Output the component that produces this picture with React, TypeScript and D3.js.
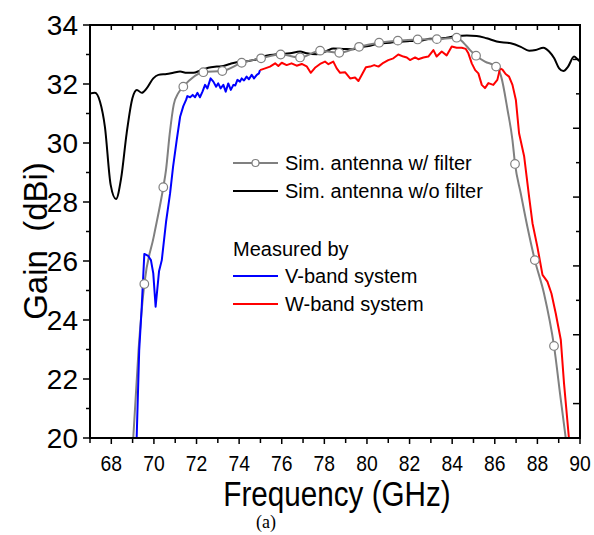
import React from "react";
import * as d3 from "d3";

// ---------- data ----------
const simNoFilterF = [67.0, 67.23, 67.47, 67.7, 67.97, 68.22, 68.46, 68.72, 68.99, 69.2, 69.43, 69.66, 69.97, 70.21, 70.6, 70.91, 71.23, 71.54, 71.85, 72.16, 72.55, 72.95, 73.26, 73.57, 73.89, 74.2, 74.51, 74.83, 75.14, 75.45, 75.77, 76.08, 76.39, 76.86, 77.17, 77.64, 78.11, 78.42, 78.89, 79.36, 79.83, 80.15, 80.62, 81.08, 81.55, 82.02, 82.49, 82.96, 83.27, 83.74, 84.21, 84.69, 85.15, 85.62, 86.09, 86.75, 87.22, 87.61, 87.92, 88.28, 88.55, 88.79, 89.02, 89.22, 89.44, 89.72, 89.88, 90.0];
const simNoFilterG = [31.68, 31.7, 31.4, 30.55, 28.58, 28.1, 28.8, 30.33, 31.52, 31.8, 31.7, 31.85, 32.19, 32.31, 32.34, 32.38, 32.42, 32.38, 32.38, 32.45, 32.55, 32.59, 32.61, 32.68, 32.74, 32.76, 32.79, 32.84, 32.93, 32.98, 33.01, 33.02, 33.04, 33.1, 33.04, 33.01, 33.12, 33.2, 33.19, 33.18, 33.26, 33.3, 33.38, 33.4, 33.43, 33.46, 33.46, 33.53, 33.53, 33.57, 33.63, 33.64, 33.63, 33.55, 33.44, 33.38, 33.26, 33.13, 33.15, 33.23, 33.1, 32.87, 32.53, 32.44, 32.59, 32.93, 32.84, 32.76];

const simFilterF = [69.03, 69.28, 69.55, 70.0, 70.44, 70.57, 70.74, 70.93, 71.15, 71.38, 72.32, 73.21, 74.12, 75.03, 75.95, 76.86, 77.8, 78.7, 79.63, 80.57, 81.45, 82.38, 83.28, 84.21, 84.53, 84.84, 85.12, 85.54, 86.06, 86.3, 86.6, 86.83, 86.95, 87.22, 87.53, 87.88, 88.31, 88.78, 89.1, 89.33];
const simFilterG = [20.0, 23.0, 25.22, 26.85, 28.5, 29.1, 30.3, 31.3, 31.7, 31.91, 32.4, 32.44, 32.72, 32.87, 33.0, 32.9, 33.13, 33.06, 33.26, 33.4, 33.47, 33.51, 33.52, 33.57, 33.4, 33.15, 32.96, 32.76, 32.59, 32.25, 31.12, 30.1, 29.29, 28.29, 27.16, 26.03, 24.9, 23.12, 21.29, 20.0];
const simFilterMarkF = [69.55, 70.44, 71.38, 72.32, 73.21, 74.12, 75.03, 75.95, 76.86, 77.8, 78.7, 79.63, 80.57, 81.45, 82.38, 83.28, 84.21, 85.12, 86.06, 86.95, 87.88, 88.78];
const simFilterMarkG = [25.22, 28.5, 31.91, 32.4, 32.44, 32.72, 32.87, 33.0, 32.9, 33.13, 33.06, 33.26, 33.4, 33.47, 33.51, 33.52, 33.57, 32.96, 32.59, 29.29, 26.03, 23.12];

const vBandF = [69.19, 69.31, 69.42, 69.55, 69.73, 69.86, 69.97, 70.08, 70.24, 70.37, 70.57, 70.76, 70.9, 71.07, 71.23, 71.38, 71.51, 71.57, 71.7, 71.82, 71.93, 72.04, 72.16, 72.28, 72.4, 72.51, 72.66, 72.79, 72.92, 73.02, 73.13, 73.26, 73.37, 73.49, 73.61, 73.73, 73.82, 73.92, 74.04, 74.12, 74.23, 74.35, 74.46, 74.59, 74.7, 74.83, 74.93, 74.98];
const vBandG = [20.0, 22.98, 24.34, 26.24, 26.17, 26.03, 25.58, 24.45, 25.65, 26.03, 27.33, 28.3, 29.2, 30.1, 30.89, 31.25, 31.46, 31.59, 31.55, 31.63, 31.55, 31.7, 31.55, 31.74, 31.97, 31.85, 32.19, 32.08, 31.91, 32.02, 31.85, 31.97, 31.74, 32.02, 31.8, 31.97, 31.95, 32.14, 32.08, 32.19, 32.12, 32.25, 32.16, 32.31, 32.19, 32.31, 32.36, 32.47];

const wBandF = [74.98, 75.22, 75.45, 75.69, 75.84, 76.0, 76.23, 76.46, 76.7, 76.94, 77.17, 77.36, 77.56, 77.8, 78.03, 78.19, 78.42, 78.58, 78.74, 78.97, 79.21, 79.44, 79.6, 79.76, 79.95, 80.15, 80.34, 80.54, 80.77, 81.0, 81.24, 81.47, 81.71, 81.87, 82.02, 82.26, 82.41, 82.65, 82.88, 83.12, 83.27, 83.51, 83.74, 83.98, 84.21, 84.45, 84.64, 84.76, 84.92, 85.08, 85.23, 85.39, 85.54, 85.7, 85.93, 86.12, 86.25, 86.36, 86.51, 86.67, 86.83, 86.99, 87.14, 87.38, 87.61, 87.77, 88.0, 88.24, 88.47, 88.66, 88.86, 89.1, 89.25, 89.48];
const wBandG = [32.47, 32.53, 32.59, 32.7, 32.61, 32.72, 32.64, 32.7, 32.62, 32.68, 32.6, 32.38, 32.55, 32.68, 32.76, 32.67, 32.76, 32.53, 32.38, 32.4, 32.19, 32.22, 32.1, 32.31, 32.57, 32.59, 32.64, 32.59, 32.72, 32.81, 32.87, 33.0, 32.93, 32.9, 32.81, 32.9, 32.84, 32.9, 32.93, 33.15, 32.93, 33.1, 32.97, 33.27, 33.23, 33.23, 33.19, 33.04, 32.7, 32.47, 32.36, 31.97, 31.86, 32.03, 31.97, 32.14, 32.53, 32.49, 32.34, 32.25, 31.97, 31.46, 30.33, 29.54, 28.18, 27.28, 26.48, 25.53, 25.3, 24.9, 24.23, 23.32, 21.85, 20.0];

const xTicks = [68, 70, 72, 74, 76, 78, 80, 82, 84, 86, 88, 90];
const yTicks = [20, 22, 24, 26, 28, 30, 32, 34];
const legendSim = ["Sim. antenna w/ filter", "Sim. antenna w/o filter"];
const legendMeasTitle = "Measured by";
const legendMeas = ["V-band system", "W-band system"];

// ---------- layout ----------
const W = 594;
const H = 535;
const L = 90, R = 580, T = 25, B = 438;
const SANS = "'Liberation Sans', Arial, sans-serif";

export default function App() {
  const x = d3.scaleLinear().domain([67, 90]).range([L, R]);
  const y = d3.scaleLinear().domain([20, 34]).range([B, T]);
  const yRight = d3.scaleLinear().domain([0, 12]).range([B, T]);

  const mk = (fs: number[], gs: number[]) => fs.map((f, i) => [f, gs[i]] as [number, number]);
  const lineLin = d3.line<[number, number]>().x(d => x(d[0])).y(d => y(d[1]));
  const lineSmooth = d3.line<[number, number]>().x(d => x(d[0])).y(d => y(d[1])).curve(d3.curveMonotoneX);

  const minorX = d3.range(67, 91, 1);
  const minorY = d3.range(20, 35, 1);
  const rightTicks = d3.range(1, 12, 1);

  const legX0 = 233, legX1 = 278, legTx = 285;
  const rowsY = [163, 191, 248, 276, 304];
  const NX = 0.86; // horizontal condensing of the narrow axis font

  return (
    <div style={{ position: "absolute", left: 0, top: 0, width: W, height: H, background: "#fff" }}>
      <svg width={W} height={H} style={{ display: "block" }}>
        <rect x={0} y={0} width={W} height={H} fill="#fff" />
        <defs>
          <clipPath id="plot">
            <rect x={L} y={T} width={R - L} height={B - T} />
          </clipPath>
        </defs>

        {/* data */}
        <g clipPath="url(#plot)" fill="none" strokeLinejoin="round">
          <path d={lineSmooth(mk(simNoFilterF, simNoFilterG)) || ""} stroke="#000" strokeWidth={2} />
          <path d={lineSmooth(mk(simFilterF, simFilterG)) || ""} stroke="#808080" strokeWidth={2} />
          <path d={lineLin(mk(vBandF, vBandG)) || ""} stroke="#0000ff" strokeWidth={2} />
          <path d={lineLin(mk(wBandF, wBandG)) || ""} stroke="#ff0000" strokeWidth={2} />
          {simFilterMarkF.map((f, i) => (
            <circle key={i} cx={x(f)} cy={y(simFilterMarkG[i])} r={4.3} fill="#fff" stroke="#808080" strokeWidth={1.2} />
          ))}
        </g>

        {/* frame */}
        <rect x={L} y={T} width={R - L} height={B - T} fill="none" stroke="#000" strokeWidth={2} />

        {/* bottom axis ticks (outward) */}
        {minorX.map(v => (
          <line key={"bx" + v} x1={x(v)} x2={x(v)} y1={B} y2={B + (v % 2 === 0 ? 6 : 5)} stroke="#000" strokeWidth={1.5} />
        ))}
        {/* top axis ticks (inward) */}
        {minorX.map(v => (
          <line key={"tx" + v} x1={x(v)} x2={x(v)} y1={T} y2={T + 5} stroke="#000" strokeWidth={1.5} />
        ))}
        {/* left axis ticks (outward) */}
        {minorY.map(v => (
          <line key={"ly" + v} x1={L} x2={L - (v % 2 === 0 ? 7 : 4)} y1={y(v)} y2={y(v)} stroke="#000" strokeWidth={1.5} />
        ))}
        {/* right axis ticks (inward) */}
        {rightTicks.map(v => (
          <line key={"ry" + v} x1={R} x2={R - (v % 2 === 0 ? 4 : 7)} y1={yRight(v)} y2={yRight(v)} stroke="#000" strokeWidth={1.5} />
        ))}

        {/* tick labels */}
        {xTicks.map(v => (
          <text key={"xl" + v} transform={`translate(${x(v)},471) scale(${NX},1)`} textAnchor="middle" fontFamily={SANS} fontSize={22.5} fill="#000">{v}</text>
        ))}
        {yTicks.map(v => (
          <text key={"yl" + v} x={78} y={y(v) + 10} textAnchor="end" fontFamily={SANS} fontSize={28} fill="#000">{v}</text>
        ))}

        {/* axis titles */}
        <text transform={`translate(${(L + R) / 2 + 2},506) scale(${NX},1)`} textAnchor="middle" fontFamily={SANS} fontSize={34.5} fill="#000">Frequency (GHz)</text>
        <text transform={`translate(47,${241}) rotate(-90)`} textAnchor="middle" fontFamily={SANS} fontSize={33} fill="#000" style={{ whiteSpace: "pre" }}>{"Gain  (dBi)"}</text>
        <text x={266} y={528} textAnchor="middle" fontFamily="'Liberation Serif', 'Times New Roman', serif" fontSize={18} fill="#000">(a)</text>

        {/* legend */}
        <line x1={legX0} x2={legX1} y1={rowsY[0]} y2={rowsY[0]} stroke="#808080" strokeWidth={2} />
        <circle cx={(legX0 + legX1) / 2} cy={rowsY[0]} r={3.5} fill="#fff" stroke="#808080" strokeWidth={1.2} />
        <text x={legTx} y={rowsY[0] + 7} fontFamily={SANS} fontSize={20} fill="#000">{legendSim[0]}</text>
        <line x1={legX0} x2={legX1} y1={rowsY[1]} y2={rowsY[1]} stroke="#000" strokeWidth={2} />
        <text x={legTx} y={rowsY[1] + 7} fontFamily={SANS} fontSize={20} fill="#000">{legendSim[1]}</text>
        <text x={legX0} y={rowsY[2] + 8} fontFamily={SANS} fontSize={20} fill="#000">{legendMeasTitle}</text>
        <line x1={legX0} x2={legX1} y1={rowsY[3]} y2={rowsY[3]} stroke="#0000ff" strokeWidth={2} />
        <text x={legTx} y={rowsY[3] + 7} fontFamily={SANS} fontSize={20} fill="#000">{legendMeas[0]}</text>
        <line x1={legX0} x2={legX1} y1={rowsY[4]} y2={rowsY[4]} stroke="#ff0000" strokeWidth={2} />
        <text x={legTx} y={rowsY[4] + 7} fontFamily={SANS} fontSize={20} fill="#000">{legendMeas[1]}</text>
      </svg>
    </div>
  );
}
